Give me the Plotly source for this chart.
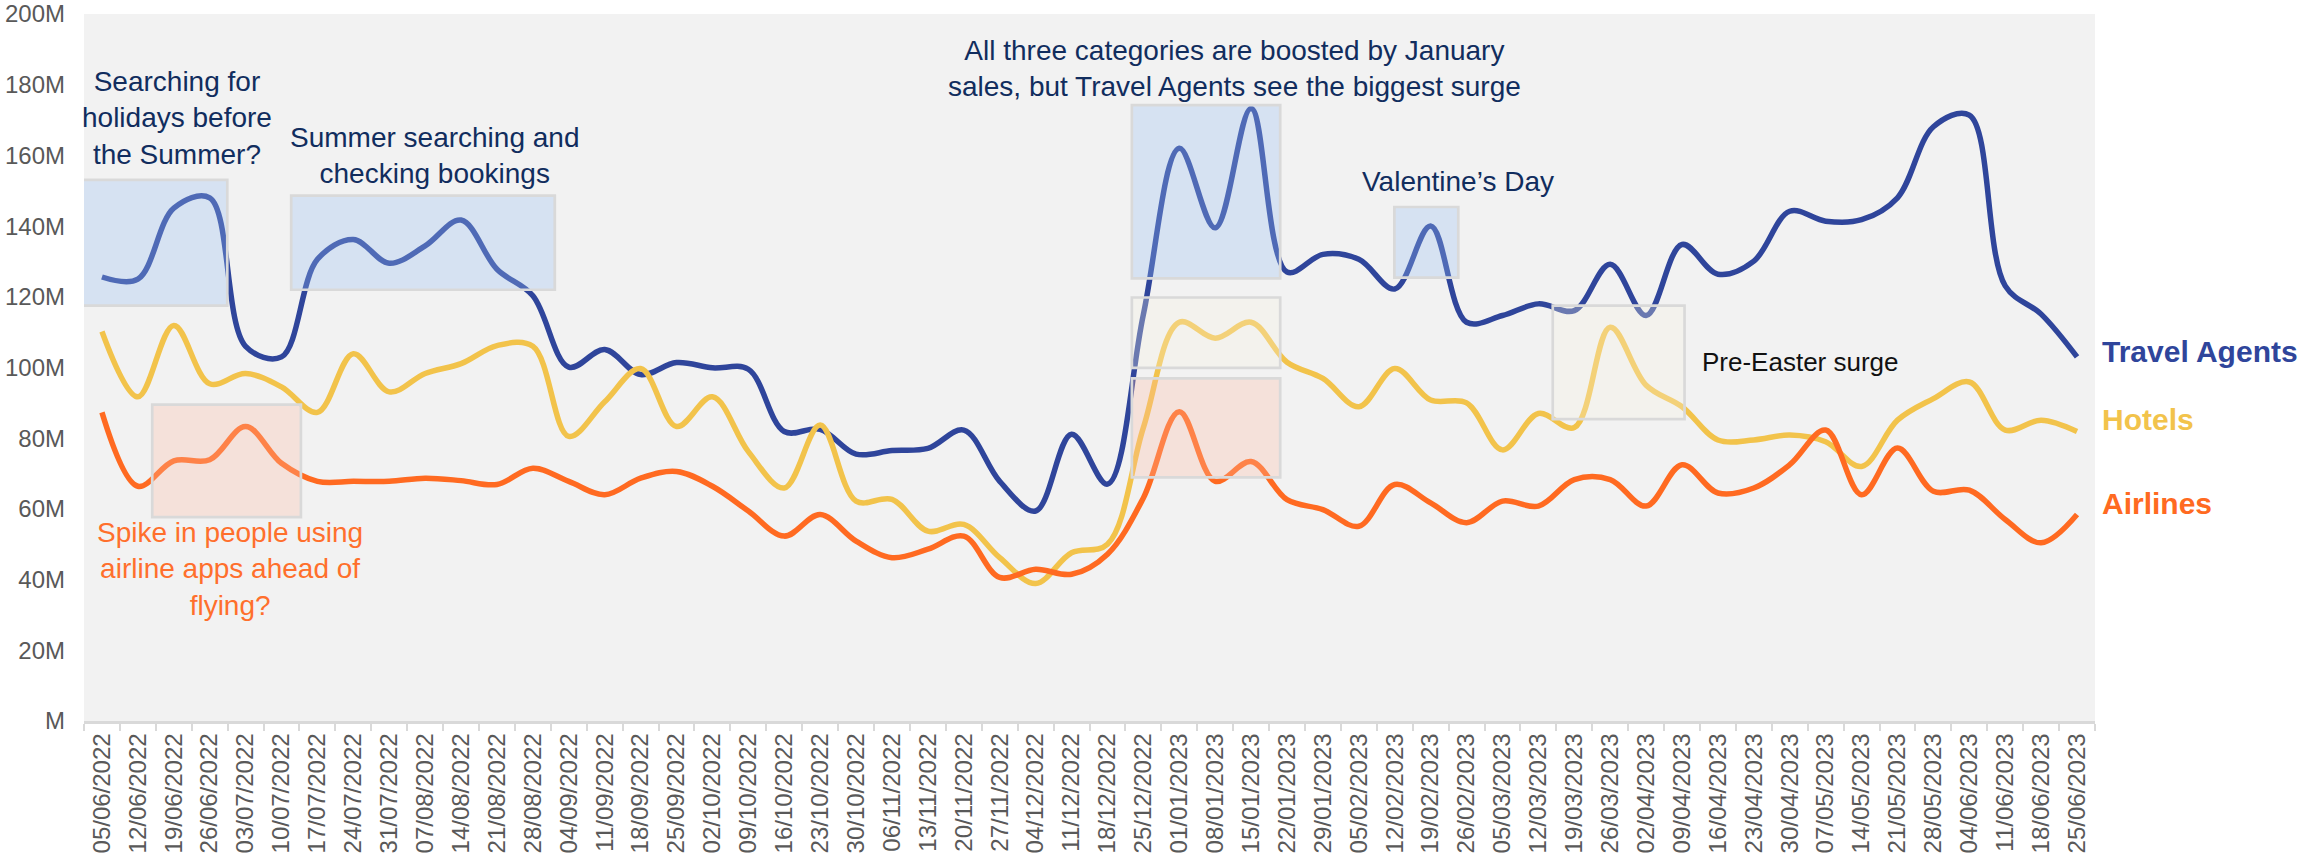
import plotly.graph_objects as go

dates = [
    "05/06/2022", "12/06/2022", "19/06/2022", "26/06/2022", "03/07/2022", "10/07/2022",
    "17/07/2022", "24/07/2022", "31/07/2022", "07/08/2022", "14/08/2022", "21/08/2022",
    "28/08/2022", "04/09/2022", "11/09/2022", "18/09/2022", "25/09/2022", "02/10/2022",
    "09/10/2022", "16/10/2022", "23/10/2022", "30/10/2022", "06/11/2022", "13/11/2022",
    "20/11/2022", "27/11/2022", "04/12/2022", "11/12/2022", "18/12/2022", "25/12/2022",
    "01/01/2023", "08/01/2023", "15/01/2023", "22/01/2023", "29/01/2023", "05/02/2023",
    "12/02/2023", "19/02/2023", "26/02/2023", "05/03/2023", "12/03/2023", "19/03/2023",
    "26/03/2023", "02/04/2023", "09/04/2023", "16/04/2023", "23/04/2023", "30/04/2023",
    "07/05/2023", "14/05/2023", "21/05/2023", "28/05/2023", "04/06/2023", "11/06/2023",
    "18/06/2023", "25/06/2023",
]

# values in millions
travel_agents = [
    125.6, 125.0, 145.1, 148.0, 106.0, 103.0, 130.6, 136.2, 129.5, 134.4, 141.7, 127.8, 120.3, 100.1,
    105.1, 98.0, 101.4, 99.9, 99.5, 81.9, 82.5, 75.5, 76.5, 77.1, 82.3, 67.8, 59.4, 81.1,
    67.0, 115.0, 162.0, 139.5, 173.3, 127.0, 132.0, 130.6, 122.2, 140.0, 112.8, 114.7, 118.0, 116.1,
    129.2, 114.7, 134.8, 126.4, 130.1, 144.2, 141.4, 141.8, 148.0, 168.1, 171.4, 123.1, 115.1, 103.0,
]
hotels = [
    110.2, 91.7, 111.9, 95.4, 98.3, 94.5, 87.3, 103.9, 93.1, 98.3, 101.1, 106.2, 106.0, 80.5,
    90.3, 99.7, 83.3, 91.7, 76.2, 65.9, 83.7, 62.2, 62.7, 53.7, 55.6, 46.2, 38.9, 47.6,
    50.0, 83.0, 112.8, 108.3, 112.8, 101.5, 96.9, 88.9, 99.7, 90.8, 90.0, 76.7, 87.0, 83.0,
    111.4, 95.0, 88.9, 79.5, 79.5, 80.9, 79.0, 72.0, 85.1, 91.2, 95.9, 82.3, 85.1, 81.9,
]
airlines = [
    87.3, 66.4, 73.6, 73.9, 83.3, 72.9, 67.8, 67.8, 67.8, 68.7, 68.0, 66.9, 71.5, 67.8,
    64.0, 68.7, 70.6, 66.4, 59.4, 52.3, 58.4, 50.9, 46.2, 48.6, 52.3, 40.6, 42.9, 41.5,
    47.2, 63.1, 87.5, 67.8, 73.4, 62.6, 59.8, 55.1, 66.9, 61.7, 56.1, 62.2, 60.8, 68.3,
    68.3, 60.8, 72.5, 64.5, 65.9, 72.5, 82.3, 64.0, 77.2, 65.0, 65.3, 57.0, 50.4, 58.4,
]

y_tickvals = [0, 20, 40, 60, 80, 100, 120, 140, 160, 180, 200]
y_ticktext = ["M", "20M", "40M", "60M", "80M", "100M", "120M", "140M", "160M", "180M", "200M"]

C_TA = "#2F459B"
C_HO = "#F2C34B"
C_AI = "#FF6A21"
NAVY = "#112D5E"
FONT = "Liberation Sans, Arial, sans-serif"

fig = go.Figure()
for name, vals, col in [("Travel Agents", travel_agents, C_TA),
                        ("Hotels", hotels, C_HO),
                        ("Airlines", airlines, C_AI)]:
    fig.add_trace(go.Scatter(x=dates, y=vals, name=name, mode="lines",
                             line=dict(color=col, width=5.5, shape="spline", smoothing=1.0)))

BLUE_FILL = "rgba(152,191,242,0.31)"
ORANGE_FILL = "rgba(252,185,162,0.30)"
BEIGE_FILL = "rgba(245,242,225,0.30)"
BORDER = dict(color="#D9D9D9", width=2.7)

boxes = [
    (-0.68, 3.49, 117.5, 153.1, BLUE_FILL),
    (5.27, 12.61, 122.0, 148.6, BLUE_FILL),
    (1.40, 5.54, 57.7, 89.5, ORANGE_FILL),
    (28.68, 32.81, 125.2, 174.2, BLUE_FILL),
    (28.68, 32.81, 99.9, 119.8, BEIGE_FILL),
    (28.68, 32.81, 68.9, 96.9, ORANGE_FILL),
    (35.99, 37.77, 125.4, 145.4, BLUE_FILL),
    (40.40, 44.07, 85.4, 117.5, BEIGE_FILL),
]
for x0, x1, y0, y1, fill in boxes:
    fig.add_shape(type="rect", xref="x", yref="y", x0=x0, x1=x1, y0=y0, y1=y1,
                  fillcolor=fill, line=BORDER, layer="above")

notes = [
    ("Searching for<br>holidays before<br>the Summer?", 2.10, 170.5, NAVY, 28, "center"),
    ("Summer searching and<br>checking bookings", 9.25, 160.1, NAVY, 28, "center"),
    ("Spike in people using<br>airline apps ahead of<br>flying?", 3.575, 42.95, "#FF6F2C", 28, "center"),
    ("All three categories are boosted by January<br>sales, but Travel Agents see the biggest surge",
     31.53, 184.5, NAVY, 28, "center"),
    ("Valentine\u2019s Day", 37.75, 152.6, NAVY, 28, "center"),
    ("Pre-Easter surge", 44.49, 101.5, "#111111", 26, "left"),
]
for text, x, y, col, size, anchor in notes:
    fig.add_annotation(text=text, x=x, y=y, xref="x", yref="y", showarrow=False,
                       xanchor=anchor, yanchor="middle", align="center",
                       font=dict(family=FONT, size=size, color=col))

for text, y, col in [("Travel Agents", 104.4, C_TA), ("Hotels", 85.2, C_HO), ("Airlines", 61.6, C_AI)]:
    fig.add_annotation(text="<b>" + text + "</b>", x=1, xref="paper", xshift=5, y=y, yref="y",
                       showarrow=False, xanchor="left", yanchor="middle",
                       font=dict(family=FONT, size=30, color=col))

fig.update_layout(
    width=2309, height=861,
    margin=dict(l=84, r=214, t=14, b=140),
    paper_bgcolor="white", plot_bgcolor="#F2F2F2",
    showlegend=False,
    font=dict(family=FONT, color="#595959"),
    xaxis=dict(type="category", range=[-0.5, 55.5], tickangle=-90,
               ticks="outside", tickson="boundaries", ticklen=7, tickwidth=2, tickcolor="#D9D9D9",
               showline=True, linecolor="#D9D9D9", linewidth=2.5, showgrid=False,
               tickfont=dict(family=FONT, size=24, color="#595959"), automargin=False),
    yaxis=dict(range=[0, 200], tickvals=y_tickvals, ticktext=y_ticktext, showgrid=False,
               zeroline=False, showline=False, ticks="", ticklabelstandoff=18,
               ticklabeloverflow="allow",
               tickfont=dict(family=FONT, size=24, color="#595959"), automargin=False),
)

fig.write_html("out.html", config={"displayModeBar": False},
               post_script="document.body.style.margin='0';document.body.style.padding='0';")
